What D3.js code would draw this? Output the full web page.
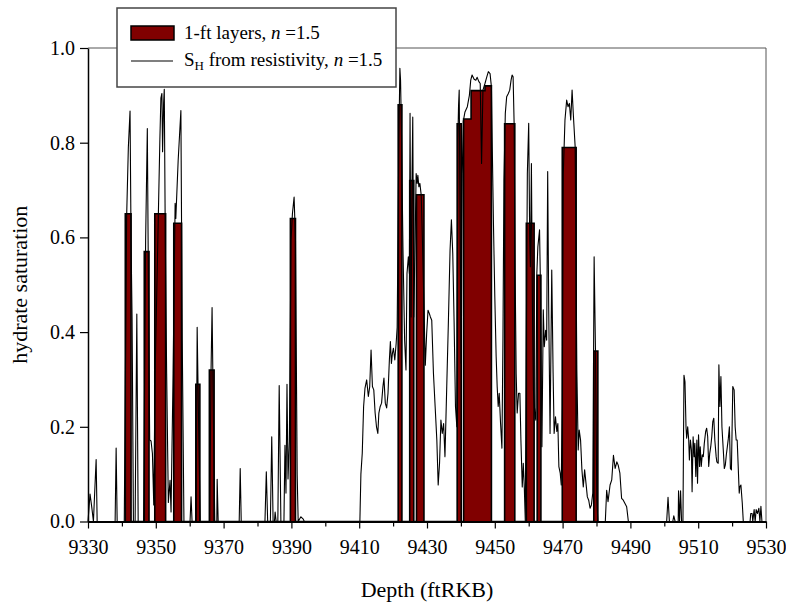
<!DOCTYPE html>
<html>
<head>
<meta charset="utf-8">
<script src="https://cdn.jsdelivr.net/npm/d3@7"></script>
<style>
  body { margin: 0; background: #fff; }
  svg { display: block; }
  svg text { font-family: "Liberation Serif", "Times New Roman", serif !important; fill: #000; }
</style>
</head>
<body>
<svg id="chart" width="786" height="602"></svg>
<script>
// Axis ticks
const depthTicks = [9330, 9350, 9370, 9390, 9410, 9430, 9450, 9470, 9490, 9510, 9530];
const depthMinorTicks = [9340, 9360, 9380, 9400, 9420, 9440, 9460, 9480, 9500, 9520];
const satTicks = [0.0, 0.2, 0.4, 0.6, 0.8, 1.0];

// 1-ft layer model: top depth, base depth, hydrate saturation
const layerTop  = [9341.0, 9346.6, 9349.7, 9355.3, 9361.8, 9365.8, 9389.7, 9421.5, 9424.9, 9426.9, 9438.9, 9440.8, 9443.0, 9447.1, 9452.9, 9459.3, 9462.5, 9469.9, 9479.2];
const layerBase = [9342.7, 9348.0, 9352.9, 9357.6, 9363.0, 9367.2, 9391.2, 9422.6, 9426.1, 9429.1, 9440.1, 9443.0, 9447.1, 9449.0, 9455.9, 9461.6, 9463.6, 9474.0, 9480.4];
const layerSat  = [0.65, 0.57, 0.65, 0.63, 0.29, 0.32, 0.64, 0.88, 0.72, 0.69, 0.84, 0.85, 0.91, 0.92, 0.84, 0.63, 0.52, 0.79, 0.36];

// Saturation computed from the resistivity log
const logDepth = [
  9330.0, 9330.6, 9331.1, 9331.6, 9332.4, 9332.7, 9338.0, 9338.3, 9338.6, 9340.7,
  9341.4, 9341.9, 9342.4, 9342.7, 9343.0, 9343.4, 9343.9, 9344.4, 9344.8, 9346.4,
  9347.0, 9347.5, 9347.8, 9348.2, 9348.6, 9349.0, 9349.4, 9349.8, 9350.6, 9351.2,
  9351.5, 9351.8, 9352.0, 9352.3, 9352.5, 9352.8, 9353.2, 9353.7, 9354.2, 9354.5,
  9355.1, 9355.7, 9355.9, 9356.6, 9357.4, 9357.8, 9358.3, 9360.1, 9360.4, 9360.7,
  9361.9, 9362.2, 9362.7, 9363.1, 9365.9, 9366.3, 9366.6, 9367.0, 9367.4, 9368.0,
  9368.1, 9368.4, 9374.6, 9374.9, 9375.2, 9382.2, 9382.6, 9383.0, 9383.8, 9384.2,
  9384.6, 9385.0, 9385.2, 9385.5, 9386.0, 9386.4, 9386.9, 9387.8, 9388.1, 9388.4,
  9388.7, 9389.0, 9389.4, 9389.9, 9390.3, 9390.8, 9391.2, 9391.7, 9392.0, 9392.8,
  9393.5, 9393.8,
  9410.2, 9410.5, 9410.9, 9411.3, 9411.7, 9412.2, 9412.7, 9413.1, 9413.5, 9413.9,
  9414.3, 9414.7, 9415.1, 9415.5, 9415.8, 9416.2, 9416.6, 9417.0, 9417.3, 9417.7,
  9418.1, 9418.5, 9418.9, 9419.2, 9419.5, 9419.8, 9420.1, 9420.5, 9420.9, 9421.2,
  9421.7, 9422.0, 9422.2, 9422.5, 9422.9, 9423.4, 9423.8, 9424.1, 9424.5, 9424.8,
  9425.0, 9425.3, 9425.6, 9425.8, 9426.1, 9426.5, 9426.8, 9427.1, 9427.3, 9427.6,
  9427.9, 9428.3, 9428.7, 9429.1, 9429.5, 9429.9, 9430.3, 9430.7, 9431.0, 9431.4,
  9431.9, 9432.4, 9432.9, 9433.3, 9433.7, 9434.1, 9434.5, 9434.9, 9435.3, 9435.8,
  9436.3, 9436.8, 9437.2, 9437.6, 9438.0, 9438.4, 9438.8, 9439.1, 9439.3, 9439.5,
  9439.8, 9440.1, 9440.4, 9440.7, 9441.2, 9441.9, 9442.5, 9442.9, 9443.3, 9443.9,
  9444.4, 9444.8, 9445.3, 9445.7, 9446.1, 9446.5, 9447.1, 9447.6, 9448.1, 9448.6,
  9449.0, 9449.3, 9449.6, 9450.0, 9450.4, 9450.7, 9451.0, 9451.3, 9451.7, 9452.1,
  9452.4, 9452.7, 9453.1, 9453.5, 9454.0, 9454.4, 9454.8, 9455.1, 9455.4, 9455.7,
  9456.0, 9456.3, 9456.6, 9457.0, 9457.4, 9457.7, 9458.1, 9458.4, 9458.7, 9459.0,
  9459.3, 9459.6, 9460.0, 9460.3, 9460.5, 9460.8, 9461.1, 9461.4, 9461.8, 9462.1,
  9462.4, 9462.7, 9463.2, 9463.5, 9463.9, 9464.3, 9464.6, 9465.0, 9465.3, 9465.6,
  9465.9, 9466.3, 9466.8, 9467.2, 9467.5, 9467.9, 9468.3, 9468.6, 9468.9, 9469.3,
  9469.6, 9469.9, 9470.2, 9470.7, 9471.2, 9471.6, 9472.0, 9472.4, 9472.8, 9473.2,
  9473.7, 9474.2, 9474.6, 9474.9, 9475.3, 9475.7, 9476.1, 9476.5, 9476.9, 9477.3,
  9477.7, 9478.1, 9478.5, 9478.9, 9479.3, 9479.7, 9480.1, 9480.4, 9482.6, 9483.0,
  9483.4, 9484.0, 9484.5, 9485.0, 9485.5, 9486.0, 9486.4, 9486.9, 9487.4, 9487.9,
  9488.4, 9488.9, 9489.4,
  9500.7, 9501.1, 9501.5, 9502.5, 9502.8, 9503.2, 9504.1, 9504.2, 9504.5, 9504.8,
  9505.1, 9505.5, 9505.8, 9506.1, 9506.4, 9506.6, 9506.9, 9507.2, 9507.4, 9507.7,
  9508.0, 9508.2, 9508.5, 9508.8, 9509.0, 9509.3, 9509.6, 9509.8, 9510.1, 9510.4,
  9510.6, 9510.9, 9511.2, 9511.5, 9511.8, 9512.2, 9512.5, 9512.8, 9513.1, 9513.4,
  9513.7, 9514.0, 9514.3, 9514.6, 9514.9, 9515.3, 9515.5, 9515.9, 9516.1, 9516.4,
  9516.7, 9517.0, 9517.4, 9517.7, 9518.0, 9518.3, 9518.6, 9518.9, 9519.2, 9519.5,
  9519.8, 9520.2, 9520.6, 9520.9, 9521.2, 9521.5, 9521.8, 9522.1, 9522.3, 9522.6,
  9523.0, 9523.3, 9525.3, 9525.5, 9525.9, 9526.1, 9526.5, 9526.8, 9527.1, 9527.5,
  9527.9, 9528.2, 9528.5, 9528.8, 9530.0
];
const logSat = [
  0, 0.058, 0.031, 0, 0.131, 0, 0, 0.155, 0, 0,
  0.644, 0.79, 0.867, 0.594, 0.43, 0, 0, 0.438, 0, 0,
  0.594, 0.83, 0.524, 0.172, 0.17, 0.144, 0.035, 0.313, 0.594, 0.806,
  0.894, 0.904, 0.781, 0.883, 0.913, 0.594, 0.313, 0.04, 0.087, 0.02,
  0.313, 0.672, 0.64, 0.763, 0.868, 0.383, 0, 0, 0.052, 0,
  0, 0.41, 0.172, 0, 0, 0.32, 0.452, 0.207, 0, 0,
  0.089, 0, 0, 0.112, 0, 0, 0.105, 0, 0, 0.179,
  0, 0, 0.02, 0, 0, 0.287, 0, 0, 0.161, 0.06,
  0.29, 0.09, 0.17, 0.594, 0.65, 0.685, 0.594, 0.1, 0, 0.01,
  0.005, 0,
  0, 0.10, 0.144, 0.243, 0.281, 0.299, 0.264, 0.285, 0.362, 0.285,
  0.278, 0.229, 0.2, 0.186, 0.229, 0.243, 0.25, 0.285, 0.303, 0.25,
  0.24, 0.271, 0.341, 0.38, 0.334, 0.355, 0.366, 0.341, 0.376, 0.41,
  0.806, 0.957, 0.932, 0.806, 0.58, 0.383, 0.32, 0.524, 0.559, 0.524,
  0.862, 0.432, 0.735, 0.854, 0.432, 0.594, 0.735, 0.714, 0.731, 0.707,
  0.714, 0.689, 0.58, 0.453, 0.33, 0.397, 0.446, 0.439, 0.432, 0.425,
  0.313, 0.243, 0.172, 0.077, 0.123, 0.214, 0.186, 0.207, 0.137, 0.278,
  0.419, 0.573, 0.637, 0.566, 0.419, 0.243, 0.2, 0.806, 0.877, 0.911,
  0.594, 0.334, 0.735, 0.845, 0.865, 0.876, 0.9, 0.932, 0.943, 0.934,
  0.932, 0.938, 0.929, 0.925, 0.756, 0.911, 0.925, 0.938, 0.95, 0.946,
  0.918, 0.77, 0.63, 0.475, 0.348, 0.285, 0.243, 0.271, 0.207, 0.155,
  0.383, 0.721, 0.862, 0.897, 0.904, 0.911, 0.932, 0.943, 0.939, 0.84,
  0.524, 0.313, 0.229, 0.271, 0.271, 0.172, 0.073, 0.123, 0.073, 0,
  0.383, 0.735, 0.841, 0.594, 0.538, 0.756, 0.453, 0.278, 0.229, 0.214,
  0.524, 0.58, 0.616, 0.481, 0.158, 0.447, 0.369, 0.404, 0.383, 0.739,
  0.453, 0.186, 0.531, 0.313, 0.186, 0.221, 0.19, 0.207, 0.116, 0.102,
  0.077, 0.243, 0.735, 0.848, 0.89, 0.876, 0.883, 0.848, 0.911, 0.855,
  0.792, 0.32, 0.151, 0.193, 0.172, 0.109, 0.073, 0.109, 0.081, 0.052,
  0.045, 0.028, 0.035, 0.06, 0.559, 0.36, 0.045, 0, 0, 0.066,
  0.042, 0.077, 0.088, 0.14, 0.112, 0.126, 0.119, 0.102, 0.049, 0.045,
  0.038, 0.031, 0,
  0, 0.051, 0, 0, 0.012, 0, 0, 0.065, 0, 0.065,
  0, 0, 0.309, 0.295, 0.2, 0.176, 0.2, 0.172, 0.13, 0.172,
  0.151, 0.063, 0.179, 0.137, 0.165, 0.095, 0.172, 0.081, 0.183, 0.116,
  0.158, 0.116, 0.141, 0.137, 0.165, 0.19, 0.197, 0.179, 0.116, 0.144,
  0.158, 0.179, 0.211, 0.218, 0.172, 0.137, 0.126, 0.123, 0.331, 0.243,
  0.306, 0.2, 0.151, 0.112, 0.119, 0.141, 0.158, 0.176, 0.2, 0.112,
  0.109, 0.285, 0.278, 0.2, 0.172, 0.172, 0.116, 0.06, 0.074, 0.077,
  0.039, 0, 0, 0.017, 0.017, 0, 0.025, 0, 0.025, 0.017,
  0.028, 0, 0.032, 0, 0
];

const svg = d3.select("#chart");
const plot = { left: 88, right: 766, top: 48, bottom: 521.5 };
const serif = "'Liberation Serif', 'Times New Roman', serif";

const x = d3.scaleLinear().domain([9330, 9530]).range([plot.left, plot.right]);
const y = d3.scaleLinear().domain([0, 1]).range([plot.bottom, plot.top]);

// ---- layer bars as one stepped area; adjacent layers share an outline ----
const stepPts = [];
layerTop.forEach((t, i) => {
  const b = layerBase[i], v = layerSat[i];
  const prevJoined = i > 0 && Math.abs(layerBase[i - 1] - t) < 1e-6;
  if (!prevJoined) stepPts.push([t, 0]);
  stepPts.push([t, v]);
  stepPts.push([b, v]);
  const nextJoined = i < layerTop.length - 1 && Math.abs(layerTop[i + 1] - b) < 1e-6;
  if (!nextJoined) stepPts.push([b, 0]);
});

const layerArea = d3.area()
  .x(d => x(d[0]))
  .y0(y(0))
  .y1(d => y(d[1]));
const layerOutline = d3.line()
  .x(d => x(d[0]))
  .y(d => y(d[1]));

svg.append("path")
  .datum(stepPts)
  .attr("d", layerArea)
  .attr("fill", "#800000");
svg.append("path")
  .datum(stepPts)
  .attr("d", layerOutline)
  .attr("fill", "none")
  .attr("stroke", "#000")
  .attr("stroke-width", 1.6)
  .attr("stroke-linejoin", "miter");

// ---- resistivity-derived saturation curve ----
const logPts = logDepth.map((d, i) => [d, logSat[i]]);
svg.append("path")
  .datum(logPts)
  .attr("d", d3.line().x(d => x(d[0])).y(d => y(d[1])))
  .attr("fill", "none")
  .attr("stroke", "#000")
  .attr("stroke-width", 1.1)
  .attr("stroke-linejoin", "round");

// ---- frame ----
svg.append("line")
  .attr("x1", plot.left).attr("x2", plot.right)
  .attr("y1", plot.top).attr("y2", plot.top)
  .attr("stroke", "#555").attr("stroke-width", 1);
svg.append("line")
  .attr("x1", plot.right).attr("x2", plot.right)
  .attr("y1", plot.top).attr("y2", plot.bottom)
  .attr("stroke", "#555").attr("stroke-width", 1);

// ---- axes ----
const xAxis = d3.axisBottom(x)
  .tickValues(depthTicks)
  .tickFormat(d3.format("d"))
  .tickSize(7)
  .tickSizeOuter(0)
  .tickPadding(11);
const gx = svg.append("g")
  .attr("transform", `translate(0,${plot.bottom})`)
  .call(xAxis)
  .attr("font-family", serif)
  .attr("font-size", 20);
gx.select(".domain").attr("stroke", "#000").attr("stroke-width", 2);
gx.selectAll(".tick line").attr("stroke", "#000").attr("stroke-width", 1.2);
gx.selectAll(".tick text").style("font-family", serif).style("font-size", "20px");

const xMinor = d3.axisBottom(x)
  .tickValues(depthMinorTicks)
  .tickFormat("")
  .tickSize(5)
  .tickSizeOuter(0);
const gxm = svg.append("g")
  .attr("transform", `translate(0,${plot.bottom})`)
  .call(xMinor);
gxm.select(".domain").remove();
gxm.selectAll(".tick line").attr("stroke", "#000").attr("stroke-width", 1.2);

const yAxis = d3.axisLeft(y)
  .tickValues(satTicks)
  .tickFormat(d3.format(".1f"))
  .tickSize(8)
  .tickSizeOuter(0)
  .tickPadding(5);
const gy = svg.append("g")
  .attr("transform", `translate(${plot.left},0)`)
  .call(yAxis)
  .attr("font-family", serif)
  .attr("font-size", 20);
gy.select(".domain").attr("stroke", "#000").attr("stroke-width", 1.5);
gy.selectAll(".tick line").attr("stroke", "#000").attr("stroke-width", 1.2);
gy.selectAll(".tick text").style("font-family", serif).style("font-size", "20px");

// ---- axis titles ----
svg.append("text")
  .attr("x", (plot.left + plot.right) / 2)
  .attr("y", 597)
  .attr("text-anchor", "middle")
  .attr("font-size", 22)
  .text("Depth (ftRKB)");

svg.append("text")
  .attr("transform", `translate(27,${(plot.top + plot.bottom) / 2}) rotate(-90)`)
  .attr("text-anchor", "middle")
  .attr("font-size", 22)
  .text("hydrate saturation");

// ---- legend ----
const lg = svg.append("g");
lg.append("rect")
  .attr("x", 117).attr("y", 8)
  .attr("width", 279).attr("height", 79)
  .attr("fill", "#fff")
  .attr("stroke", "#444")
  .attr("stroke-width", 1.5);
lg.append("rect")
  .attr("x", 131).attr("y", 26)
  .attr("width", 43).attr("height", 14)
  .attr("fill", "#800000")
  .attr("stroke", "#000")
  .attr("stroke-width", 1.5);
lg.append("line")
  .attr("x1", 131).attr("x2", 173)
  .attr("y1", 61).attr("y2", 61)
  .attr("stroke", "#000").attr("stroke-width", 1.2);

const t1 = lg.append("text").attr("x", 184).attr("y", 39).attr("font-size", 19);
t1.append("tspan").text("1-ft layers, ");
t1.append("tspan").attr("font-style", "italic").text("n");
t1.append("tspan").text(" =1.5");

const t2 = lg.append("text").attr("x", 184).attr("y", 66).attr("font-size", 19);
t2.append("tspan").text("S");
t2.append("tspan").attr("font-size", 13).attr("dy", 4).text("H");
t2.append("tspan").attr("dy", -4).text(" from resistivity, ");
t2.append("tspan").attr("font-style", "italic").text("n");
t2.append("tspan").text(" =1.5");
</script>
</body>
</html>
